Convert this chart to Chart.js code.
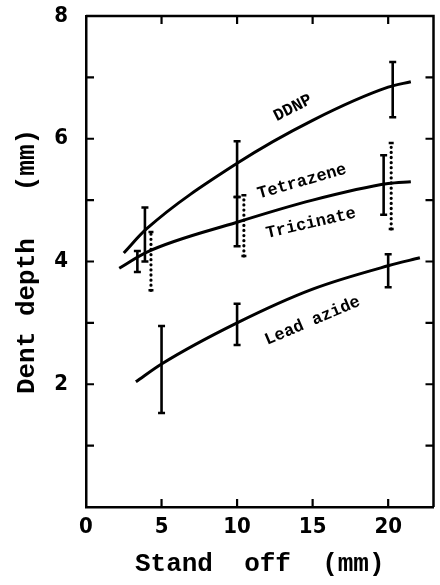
<!DOCTYPE html>
<html>
<head>
<meta charset="utf-8">
<script src="https://cdn.jsdelivr.net/npm/chart.js@4/dist/chart.umd.min.js"></script>
<style>
html, body { margin: 0; background: #fff; }
</style>
</head>
<body>
<canvas id="dentChart" width="440" height="585"></canvas>
<script>
// fitted curves: stand off (mm) -> dent depth (mm)
var ddnpX = [2.5, 4, 10, 15, 20, 21.5];
var ddnpY = [4.14, 4.53, 5.6, 6.3, 6.84, 6.93];
// Tetrazene and Tricinate share one curve
var tetraX = [2.2, 4, 10, 15, 20, 21.5];
var tetraY = [3.89, 4.15, 4.64, 5.0, 5.27, 5.3];
var leadX = [3.3, 5, 10, 15, 20, 22.1];
var leadY = [2.04, 2.33, 3.0, 3.55, 3.93, 4.06];

// error bars: position, low end, high end
var ddnpBarX = [3.9, 10.0, 20.3];
var ddnpBarLo = [4.0, 5.05, 6.35];
var ddnpBarHi = [4.88, 5.96, 7.25];
var tetraBarX = [3.4, 10.0, 19.7];
var tetraBarLo = [3.83, 4.25, 4.76];
var tetraBarHi = [4.17, 5.05, 5.73];
var triciBarX = [4.3, 10.45, 20.2];
var triciBarLo = [3.53, 4.09, 4.53];
var triciBarHi = [4.48, 5.08, 5.93];
var leadBarX = [5, 10, 20];
var leadBarLo = [1.53, 2.64, 3.58];
var leadBarHi = [2.95, 3.31, 4.12];

var xTicks = [0, 5, 10, 15, 20];
var yTicks = [2, 4, 6, 8];

var tickFont = {family: "'DejaVu Sans Condensed', 'Liberation Sans Narrow', 'DejaVu Sans'", size: 22, weight: 'bold'};
var titleFont = {family: "'Liberation Mono', 'DejaVu Sans Mono', monospace", size: 26, weight: 'bold'};

function toPoints(xs, ys) {
    return xs.map(function (x, i) { return {x: x, y: ys[i]}; });
}

function barPoints(xs, lo, hi) {
    var pts = [];
    xs.forEach(function (x, i) {
        pts.push({x: x, y: lo[i]});
        pts.push({x: x, y: hi[i]});
        pts.push({x: x, y: null});
    });
    return pts;
}

function curve(xs, ys) {
    return {
        data: toPoints(xs, ys),
        showLine: true,
        borderColor: '#000',
        borderWidth: 3,
        pointRadius: 0,
        cubicInterpolationMode: 'monotone'
    };
}

function bars(xs, lo, hi, dotted) {
    return {
        data: barPoints(xs, lo, hi),
        showLine: true,
        spanGaps: false,
        borderColor: '#000',
        borderWidth: dotted ? 3.2 : 2.6,
        borderDash: dotted ? [0.1, 5] : [],
        borderCapStyle: dotted ? 'round' : 'butt',
        pointStyle: 'line',
        pointRadius: dotted ? 2.5 : 3.5,
        pointBorderWidth: 2.5,
        pointBorderColor: '#000',
        pointBackgroundColor: '#000'
    };
}

// curve names, placed in data units
var curveLabels = [
    {text: 'DDNP', x: 13.7, y: 6.5, angle: -27},
    {text: 'Tetrazene', x: 14.3, y: 5.3, angle: -16},
    {text: 'Tricinate', x: 14.9, y: 4.62, angle: -13},
    {text: 'Lead azide', x: 15.0, y: 3.03, angle: -23}
];

var framePlugin = {
    id: 'frame',
    afterDraw: function (chart) {
        var ctx = chart.ctx;
        var a = chart.chartArea;
        var xs = chart.scales.x;
        var ys = chart.scales.y;
        ctx.save();
        ctx.strokeStyle = '#000';
        ctx.lineWidth = 2.5;
        ctx.beginPath();
        ctx.moveTo(a.left, a.top);
        ctx.lineTo(a.right, a.top);
        ctx.lineTo(a.right, a.bottom);
        ctx.stroke();
        // inward tick marks on all four sides
        ctx.lineWidth = 2.2;
        ctx.beginPath();
        [5, 10, 15, 20].forEach(function (v) {
            var px = xs.getPixelForValue(v);
            ctx.moveTo(px, a.bottom);
            ctx.lineTo(px, a.bottom - 8);
            ctx.moveTo(px, a.top);
            ctx.lineTo(px, a.top + 8);
        });
        [1, 2, 3, 4, 5, 6, 7].forEach(function (v) {
            var py = ys.getPixelForValue(v);
            ctx.moveTo(a.left, py);
            ctx.lineTo(a.left + 8, py);
            ctx.moveTo(a.right, py);
            ctx.lineTo(a.right - 8, py);
        });
        ctx.stroke();
        ctx.fillStyle = '#000';
        ctx.font = "bold 17px 'Liberation Mono', 'DejaVu Sans Mono', monospace";
        ctx.textAlign = 'center';
        ctx.textBaseline = 'middle';
        curveLabels.forEach(function (l) {
            ctx.save();
            ctx.translate(xs.getPixelForValue(l.x), ys.getPixelForValue(l.y));
            ctx.rotate(l.angle * Math.PI / 180);
            ctx.fillText(l.text, 0, 0);
            ctx.restore();
        });
        ctx.restore();
    }
};

var ctx = document.getElementById('dentChart').getContext('2d');
var dentChart = new Chart(ctx, {
    type: 'scatter',
    data: {
        datasets: [
            curve(ddnpX, ddnpY),
            curve(tetraX, tetraY),
            curve(leadX, leadY),
            bars(ddnpBarX, ddnpBarLo, ddnpBarHi, false),
            bars(tetraBarX, tetraBarLo, tetraBarHi, false),
            bars(triciBarX, triciBarLo, triciBarHi, true),
            bars(leadBarX, leadBarLo, leadBarHi, false)
        ]
    },
    options: {
        responsive: false,
        animation: false,
        layout: {padding: {top: 16, right: 6, left: 0, bottom: 0}},
        plugins: {
            legend: {display: false},
            tooltip: {enabled: false}
        },
        scales: {
            x: {
                type: 'linear',
                min: 0,
                max: 23,
                afterFit: function (s) {
                    s.height = 78;
                    s.paddingLeft = 0;
                    s.paddingRight = 0;
                },
                afterBuildTicks: function (s) {
                    s.ticks = xTicks.map(function (v) { return {value: v}; });
                },
                grid: {display: false, drawTicks: false},
                border: {display: true, color: '#000', width: 2.5},
                ticks: {color: '#000', font: tickFont, padding: 7, maxRotation: 0, autoSkip: false},
                title: {display: true, text: 'Stand  off  (mm)', color: '#000', font: titleFont, padding: {top: 0, bottom: 5}}
            },
            y: {
                type: 'linear',
                min: 0,
                max: 8,
                afterFit: function (s) {
                    s.width = 86;
                    s.paddingTop = 0;
                    s.paddingBottom = 0;
                },
                afterBuildTicks: function (s) {
                    s.ticks = yTicks.map(function (v) { return {value: v}; });
                },
                grid: {display: false, drawTicks: false},
                border: {display: true, color: '#000', width: 2.5},
                ticks: {color: '#000', font: tickFont, padding: 18, autoSkip: false},
                title: {display: true, text: 'Dent depth   (mm)', color: '#000', font: titleFont, padding: {top: 12, bottom: 0}}
            }
        }
    },
    plugins: [framePlugin]
});
</script>
</body>
</html>
